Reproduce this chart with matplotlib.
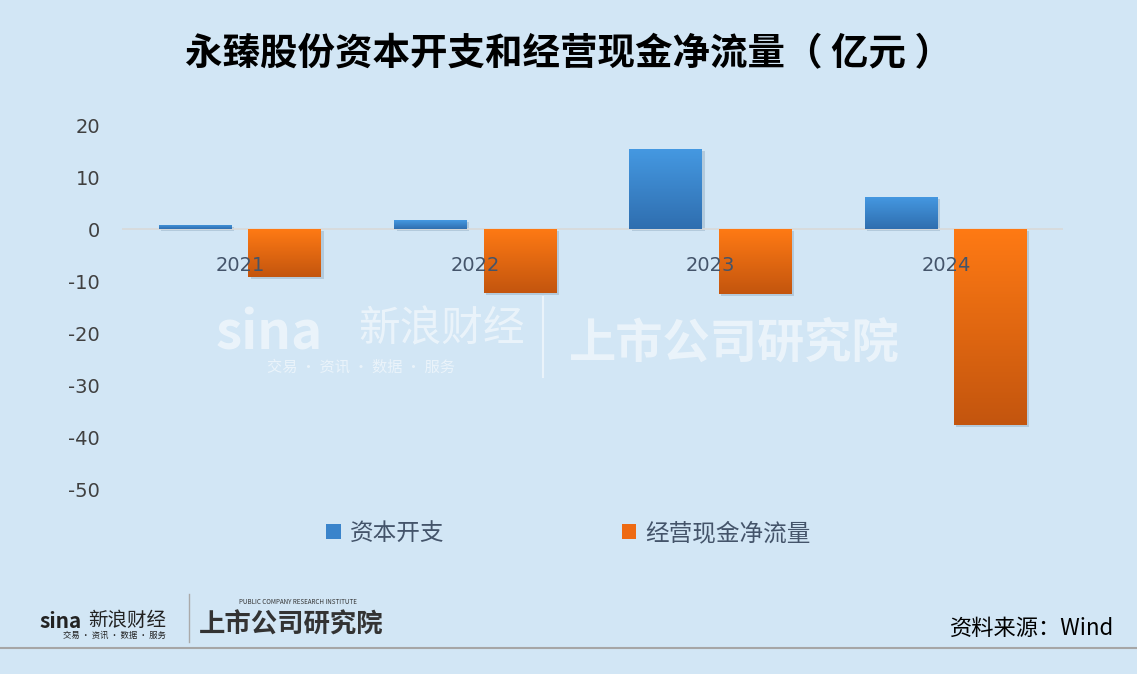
import matplotlib
matplotlib.use("Agg")
import matplotlib.pyplot as plt
import numpy as np
from matplotlib.colors import LinearSegmentedColormap

plt.rcParams["font.family"] = ["Noto Sans CJK SC", "DejaVu Sans"]
plt.rcParams["axes.unicode_minus"] = False

years = ["2021", "2022", "2023", "2024"]
capex = [0.8, 1.7, 15.4, 6.2]
op_cash = [-9.2, -12.3, -12.4, -37.6]
y_ticks = [20, 10, 0, -10, -20, -30, -40, -50]

bg = "#D2E6F5"
label_color = "#44546A"

fig = plt.figure(figsize=(11.37, 6.74), dpi=100, facecolor=bg)
ax = fig.add_axes([0.1077, 0.273, 0.8276, 0.5415])
ax.set_facecolor(bg)

x = np.arange(len(years))
width = 0.31
offset = 0.19

# dark at the bottom, bright at the top for both series
blue_map = LinearSegmentedColormap.from_list("b", ["#2F6EAF", "#4599E2"])
orange_map = LinearSegmentedColormap.from_list("o", ["#C3550E", "#FF7A14"])


def gradient_bars(bars, cmap):
    grad = np.linspace(0, 1, 256).reshape(-1, 1)
    for bar in bars:
        bx, by = bar.get_x(), bar.get_y()
        bw, bh = bar.get_width(), bar.get_height()
        # soft shadow below the bar
        ax.bar(bx + bw / 2 + 0.01, bh, width=bw, bottom=by - 0.35,
               color="#8FA9BF", alpha=0.45, zorder=1)
        lo, hi = sorted([by, by + bh])
        im = ax.imshow(grad, cmap=cmap, aspect="auto", origin="lower",
                       extent=[bx, bx + bw, lo, hi], zorder=2)
        im.set_clip_path(bar)
        bar.set_facecolor("none")


b1 = ax.bar(x - offset, capex, width, color="#3D86CC", zorder=2, label="资本开支")
b2 = ax.bar(x + offset, op_cash, width, color="#F06E12", zorder=2, label="经营现金净流量")
gradient_bars(b1, blue_map)
gradient_bars(b2, orange_map)

ax.axhline(0, color="#D9D9D9", lw=1.2, zorder=1.5)

ax.set_xlim(-0.5, 3.5)
ax.set_ylim(-50, 20)
ax.set_yticks(y_ticks)
ax.set_yticklabels([str(v) for v in y_ticks], fontsize=14, color="#404040",
                   family=["DejaVu Sans"])
ax.tick_params(axis="y", length=0, pad=16)
ax.set_xticks([])
for s in ax.spines.values():
    s.set_visible(False)

for i, yr in enumerate(years):
    ax.annotate(yr, (i, 0), xytext=(0, -26), textcoords="offset points",
                ha="center", va="center", fontsize=14, color=label_color,
                family=["DejaVu Sans"], zorder=4)

# watermark
fig.text(0.19, 0.505, "sina", fontsize=38, color="white", alpha=0.55,
         fontweight="bold", style="italic", ha="left", va="center", zorder=0)
fig.text(0.315, 0.51, "新浪财经", fontsize=30, color="white", alpha=0.55,
         ha="left", va="center")
fig.text(0.235, 0.455, "交易 · 资讯 · 数据 · 服务", fontsize=11, color="white",
         alpha=0.55, ha="left", va="center")
fig.add_artist(plt.Line2D([0.478, 0.478], [0.44, 0.56], color="white", alpha=0.55,
                          lw=1.5, transform=fig.transFigure))
fig.text(0.5, 0.49, "上市公司研究院", fontsize=34, color="white", alpha=0.55,
         fontweight="bold", style="italic", ha="left", va="center")

# legend
leg = fig.legend(handles=[b1, b2], loc="center", bbox_to_anchor=(0.5, 0.208),
                 ncol=2, frameon=False, fontsize=17, handlelength=0.6,
                 handleheight=0.6, handletextpad=0.4, columnspacing=7.5,
                 labelcolor=label_color)
leg.legend_handles[0].set_facecolor("#3A84CB")
leg.legend_handles[1].set_facecolor("#EE6A12")

# title
fig.text(0.5, 0.92, "永臻股份资本开支和经营现金净流量（ 亿元 ）", fontsize=27,
         fontweight="bold", ha="center", va="center", color="black")

# footer
fig.text(0.035, 0.078, "sina", fontsize=15, fontweight="bold", style="italic",
         color="#222222", ha="left", va="center")
fig.text(0.078, 0.08, "新浪财经", fontsize=14, color="#222222", ha="left", va="center")
fig.text(0.055, 0.058, "交易 · 资讯 · 数据 · 服务", fontsize=6, color="#222222",
         ha="left", va="center")
fig.add_artist(plt.Line2D([0.1665, 0.1665], [0.048, 0.118], color="#AAAAAA",
                          lw=1, transform=fig.transFigure))
fig.text(0.175, 0.072, "上市公司研究院", fontsize=19, fontweight="bold",
         style="italic", color="#333333", ha="left", va="center")
fig.text(0.21, 0.107, "PUBLIC COMPANY RESEARCH INSTITUTE", fontsize=4.5,
         color="#333333", ha="left", va="center")
fig.text(0.98, 0.068, "资料来源：Wind", fontsize=16, color="black",
         ha="right", va="center")
fig.add_artist(plt.Line2D([0, 1], [0.039, 0.039], color="#A6A6A6", lw=1.5,
                          transform=fig.transFigure))

fig.savefig("out.png", dpi=100, facecolor=bg)
